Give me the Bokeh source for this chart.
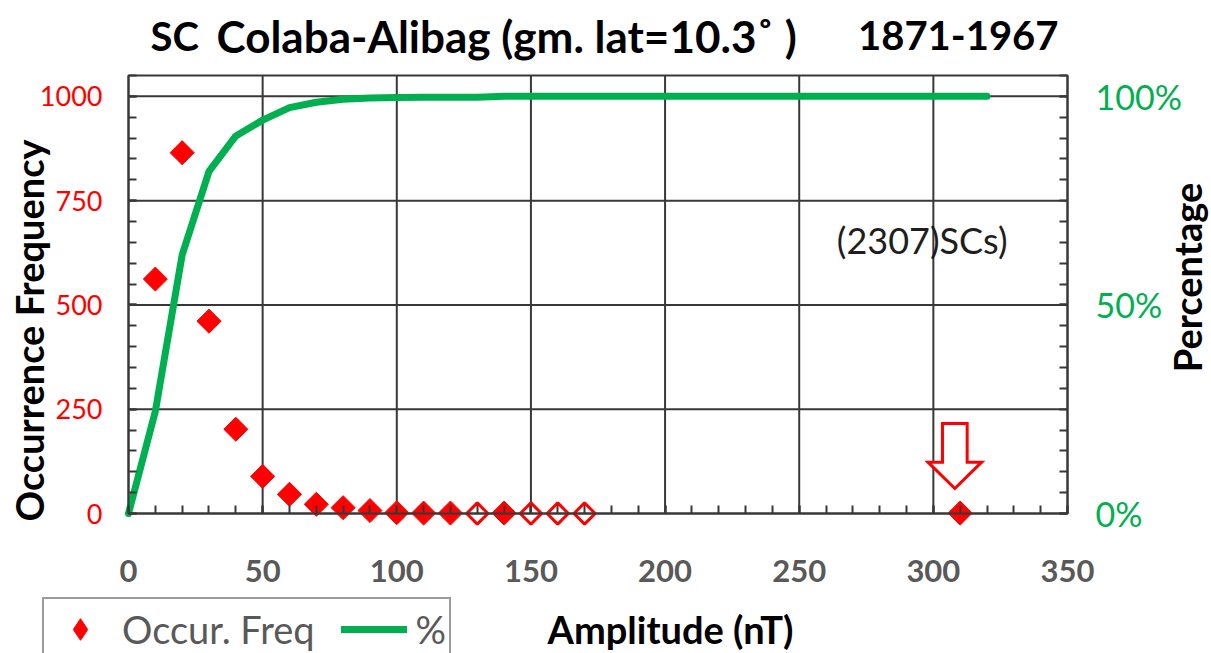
import math

from bokeh.embed import file_html
from bokeh.models import (FixedTicker, Label, Legend, LegendItem, LinearAxis,
                          Range1d)
from bokeh.plotting import figure
from bokeh.resources import INLINE

# ---- data -----------------------------------------------------------------
# occurrence frequency of SC amplitudes per 10 nT bin
amplitude = [10, 20, 30, 40, 50, 60, 70, 80, 90, 100, 110, 120, 130, 140,
             150, 160, 170, 310]
occurrence = [562, 865, 461, 202, 89, 46, 22, 14, 7, 2, 1, 1, 0, 1,
              0, 0, 0, 1]

# cumulative percentage curve
pct_amplitude = [0, 10, 20, 30, 40, 50, 60, 70, 80, 90, 100, 110, 120, 130,
                 140, 150, 160, 170, 180, 190, 200, 210, 220, 230, 240, 250,
                 260, 270, 280, 290, 300, 310, 320]
pct_values = [0, 24.5, 62.0, 82.0, 90.5, 94.3, 97.3, 98.6, 99.3, 99.6, 99.7,
              99.8, 99.8, 99.8, 100, 100, 100, 100, 100, 100, 100, 100, 100,
              100, 100, 100, 100, 100, 100, 100, 100, 100, 100]

x_ticks = [0, 50, 100, 150, 200, 250, 300, 350]
freq_ticks = [0, 250, 500, 750, 1000]
pct_ticks = [0, 50, 100]
pct_tick_labels = ["0%", "50%", "100%"]

total_events = 2307

FONT = "Lato"
RED = "#FF0000"
GREEN = "#00B050"
GRAY = "#595959"
GRID = "#383838"

# ---- page geometry: the frame fills the page, the plot box sits inside ----
W, H = 1211, 653
BOX_L, BOX_R, BOX_T, BOX_B = 128, 1067, 75, 513
X_MAX, Y_MAX, PCT_MAX = 350, 1050, 105

kx = (BOX_R - BOX_L) / X_MAX
ky = (BOX_B - BOX_T) / Y_MAX
x_range = Range1d(-BOX_L / kx, X_MAX + (W - BOX_R) / kx)
y_range = Range1d(-(H - BOX_B) / ky, Y_MAX + BOX_T / ky)
pct_scale = Y_MAX / PCT_MAX
pct_range = Range1d(y_range.start / pct_scale, y_range.end / pct_scale)

p = figure(width=W, height=H, output_backend="svg", toolbar_location=None,
           title=None, x_range=x_range, y_range=y_range,
           min_border=0, min_border_left=0, min_border_right=0,
           min_border_top=0, min_border_bottom=0,
           background_fill_color="white", border_fill_color="white")
p.outline_line_color = None
p.grid.visible = False
p.extra_y_ranges = {"pct": pct_range}


def style_axis(axis, color, size, standoff, bold=False):
    axis.major_label_text_font = FONT
    axis.major_label_text_font_size = size
    axis.major_label_text_font_style = "bold" if bold else "normal"
    axis.major_label_text_color = color
    axis.major_label_standoff = standoff
    axis.major_tick_in = 8
    axis.major_tick_out = 0
    axis.minor_tick_in = 8
    axis.minor_tick_out = 0
    axis.axis_line_color = GRID
    axis.axis_line_width = 2
    axis.major_tick_line_color = GRID
    axis.major_tick_line_width = 2
    axis.minor_tick_line_color = GRID
    axis.minor_tick_line_width = 2


# ---- axes -----------------------------------------------------------------
xa = p.xaxis[0]
xa.ticker = FixedTicker(ticks=x_ticks, minor_ticks=list(range(0, 351, 10)))
xa.fixed_location = 0
xa.bounds = (0, X_MAX)
style_axis(xa, GRAY, "31px", 46, bold=True)

ya = p.yaxis[0]
ya.ticker = FixedTicker(ticks=freq_ticks, minor_ticks=list(range(0, 1051, 50)))
ya.fixed_location = 0
ya.bounds = (0, Y_MAX)
style_axis(ya, RED, "27px", 26)

ra = LinearAxis(y_range_name="pct",
                ticker=FixedTicker(ticks=pct_ticks,
                                   minor_ticks=list(range(0, 106, 5))),
                major_label_overrides=dict(zip(pct_ticks, pct_tick_labels)),
                fixed_location=X_MAX, bounds=(0, PCT_MAX))
style_axis(ra, GREEN, "34px", 28)
p.add_layout(ra, "right")

# ---- plot box and grid ----------------------------------------------------
inner_x = x_ticks[1:-1]
inner_y = freq_ticks[1:]
p.segment(x0=inner_x, y0=[0] * len(inner_x), x1=inner_x,
          y1=[Y_MAX] * len(inner_x), line_color=GRID, line_width=2)
p.segment(x0=[0] * len(inner_y), y0=inner_y, x1=[X_MAX] * len(inner_y),
          y1=inner_y, line_color=GRID, line_width=2)
p.quad(left=[0], right=[X_MAX], bottom=[0], top=[Y_MAX], fill_color=None,
       line_color=GRID, line_width=2)

# ---- glyphs ---------------------------------------------------------------
line = p.line(pct_amplitude, pct_values, y_range_name="pct", line_color=GREEN,
              line_width=7, line_cap="round", line_join="round")

filled_x = [a for a, o in zip(amplitude, occurrence) if o > 0]
filled_y = [o for o in occurrence if o > 0]
empty_x = [a for a, o in zip(amplitude, occurrence) if o == 0]
empty_y = [o for o in occurrence if o == 0]

# diamond swatch for the legend; it sits under the peak marker
swatch = p.scatter(x=[filled_x[1]], y=[filled_y[1]], marker="diamond",
                   size=23, fill_color=RED, line_color=RED)

p.scatter(filled_x, filled_y, marker="square", angle=math.pi / 4,
          size=17, fill_color=RED, line_color=RED, line_width=1)
p.scatter(empty_x, empty_y, marker="square", angle=math.pi / 4, size=15,
          fill_alpha=0, line_color=RED, line_width=3)

# block arrow pointing at the isolated large event
ax = amplitude[-1] - 2
arrow_x = [ax - 4.6, ax + 4.6, ax + 4.6, ax + 10, ax, ax - 10, ax - 4.6]
arrow_y = [216, 216, 123, 123, 60, 123, 123]
p.patch(arrow_x, arrow_y, fill_color="white", line_color=RED, line_width=3,
        line_join="miter")

p.add_layout(Label(x=264, y=656, text=f"({total_events})SCs)",
                   text_font=FONT, text_font_size="36px",
                   text_color="#1e1e1e", text_baseline="middle",
                   text_align="left"))

# ---- titles (screen units measured from the page's bottom-left) -----------
title_kw = dict(x_units="screen", y_units="screen", text_font=FONT,
                text_font_style="bold", text_color="black",
                text_baseline="middle")
p.add_layout(Label(x=150, y=H - 35, text="SC", text_align="left",
                   text_font_size="40px", **title_kw))
p.add_layout(Label(x=216, y=H - 35, text="Colaba-Alibag (gm. lat=10.3˚ )",
                   text_align="left", text_font_size="44px", **title_kw))
p.add_layout(Label(x=1058, y=H - 35, text="1871-1967", text_align="right",
                   text_font_size="40px", **title_kw))

axis_title_kw = dict(x_units="screen", y_units="screen", text_font=FONT,
                     text_font_size="38px", text_font_style="bold",
                     text_color="black", text_baseline="middle",
                     text_align="center")
p.add_layout(Label(x=28, y=H - 330, text="Occurrence Frequency",
                   angle=math.pi / 2, **axis_title_kw))
p.add_layout(Label(x=1186, y=H - 277, text="Percentage",
                   angle=math.pi / 2, **axis_title_kw))
p.add_layout(Label(x=670, y=H - 628, text="Amplitude (nT)", **axis_title_kw))

# ---- legend ---------------------------------------------------------------
legend = Legend(items=[LegendItem(label="Occur. Freq", renderers=[swatch]),
                       LegendItem(label="%", renderers=[line])],
                orientation="horizontal", location=(42, -8),
                label_text_font=FONT, label_text_font_size="38px",
                label_text_color=GRAY, glyph_width=66, glyph_height=54,
                label_standoff=9, spacing=26, padding=3, margin=0,
                border_line_color=GRID, border_line_width=2,
                background_fill_color="white", background_fill_alpha=1)
p.add_layout(legend)

open("out.html", "w").write(file_html(p, INLINE))
